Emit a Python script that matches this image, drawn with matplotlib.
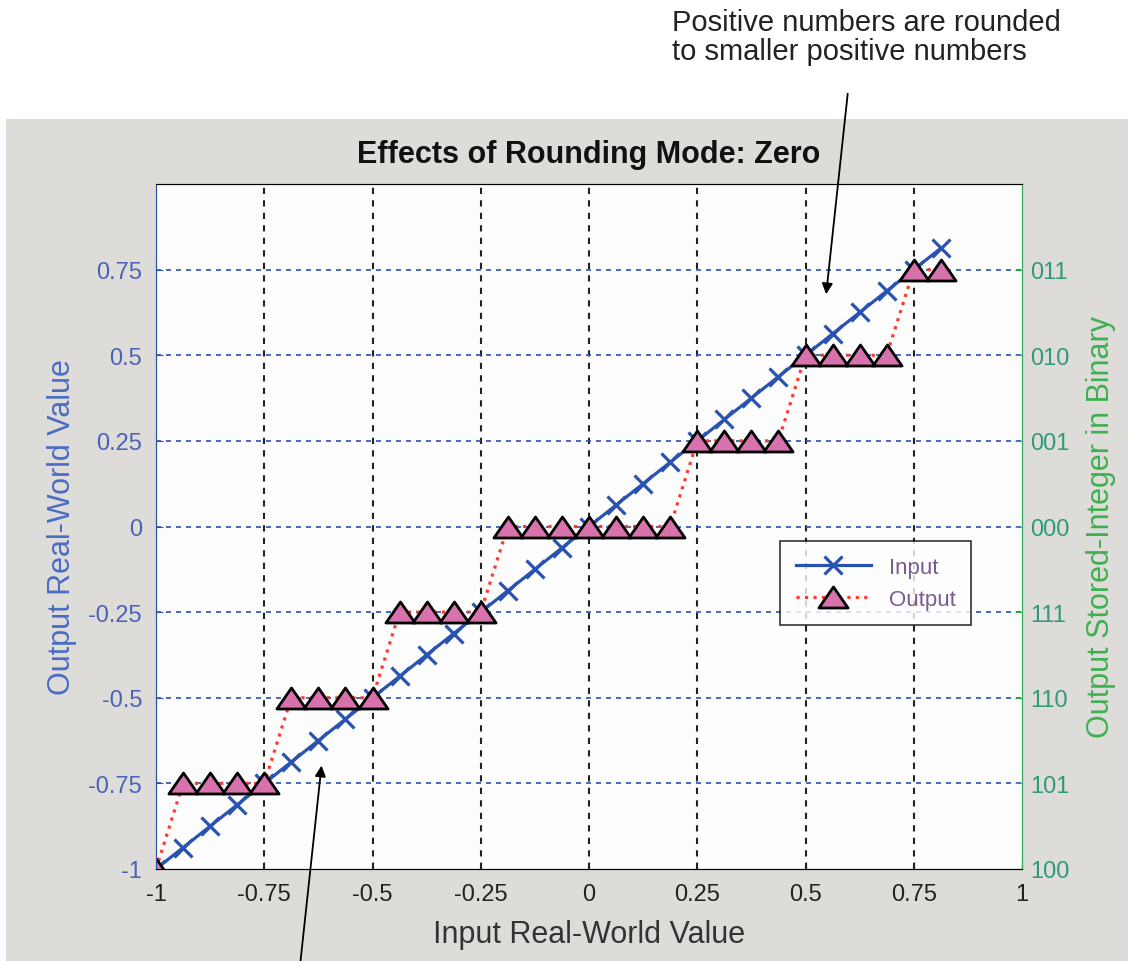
import matplotlib
matplotlib.use("Agg")
import matplotlib.pyplot as plt
from matplotlib.patches import Rectangle
from matplotlib.path import Path

plt.rcParams['font.family'] = ['Liberation Sans', 'DejaVu Sans']

# data
x_in = [-1, -0.9375, -0.875, -0.8125, -0.75, -0.6875, -0.625, -0.5625, -0.5,
        -0.4375, -0.375, -0.3125, -0.25, -0.1875, -0.125, -0.0625, 0, 0.0625,
        0.125, 0.1875, 0.25, 0.3125, 0.375, 0.4375, 0.5, 0.5625, 0.625, 0.6875,
        0.75, 0.8125]
y_out = [-1, -0.75, -0.75, -0.75, -0.75, -0.5, -0.5, -0.5, -0.5,
         -0.25, -0.25, -0.25, -0.25, 0, 0, 0, 0, 0,
         0, 0, 0.25, 0.25, 0.25, 0.25, 0.5, 0.5, 0.5, 0.5,
         0.75, 0.75]
x_ticks = [-1, -0.75, -0.5, -0.25, 0, 0.25, 0.5, 0.75, 1]
x_labels = ["-1", "-0.75", "-0.5", "-0.25", "0", "0.25", "0.5", "0.75", "1"]
y_ticks = [-1, -0.75, -0.5, -0.25, 0, 0.25, 0.5, 0.75]
y_labels = ["-1", "-0.75", "-0.5", "-0.25", "0", "0.25", "0.5", "0.75"]
bin_labels = ["100", "101", "110", "111", "000", "001", "010", "011"]

blue = '#2a52b0'
green = '#2fa75a'

fig = plt.figure(figsize=(11.28, 9.62), dpi=100)
fig.patches.append(Rectangle((6 / 1128, 0), 1, 1 - 120 / 962, transform=fig.transFigure,
                             facecolor='#dedcd8', edgecolor='none', zorder=-1))

ax = fig.add_axes([156 / 1128, 1 - 870 / 962, 866 / 1128, 685 / 962])
ax.set_facecolor('#fdfdfd')

# flat-ish triangle marker
tri = Path([(-1, -0.72), (1, -0.72), (0, 0.72), (-1, -0.72)],
           [Path.MOVETO, Path.LINETO, Path.LINETO, Path.CLOSEPOLY])

ax.plot(x_in, x_in, '-', color=blue, lw=2.3, marker='x', ms=13, mew=2.3, label='Input', zorder=3)
ax.plot(x_in, y_out, ':', color='#ff3b30', lw=2.3, marker=tri, ms=21, mfc='#d772ad',
        mec='black', mew=2, label='Output', zorder=4)

ax.set_xlim(-1, 1)
ax.set_ylim(-1, 1)
ax.set_xticks(x_ticks)
ax.set_xticklabels(x_labels)
ax.set_yticks(y_ticks)
ax.set_yticklabels(y_labels)
ax.tick_params(direction='in', length=5, labelsize=17, pad=8)
ax.tick_params(axis='x', colors='#222222', pad=10)
ax.tick_params(axis='y', colors=blue, labelcolor='#4a62b8', pad=10)

for xv in x_ticks[1:-1]:
    ax.axvline(xv, color='#222222', ls=(0, (3, 3)), lw=1.5, zorder=1)
for yv in y_ticks[1:]:
    ax.axhline(yv, color='#2a52b0', ls=(0, (3, 3)), lw=1.2, zorder=1)

ax.spines['left'].set_color(blue)
ax.spines['right'].set_color(green)
ax.spines['top'].set_color('#333333')
ax.spines['bottom'].set_color('#333333')

ax.set_xlabel('Input Real-World Value', fontsize=22, color='#333333', labelpad=10)
ax.set_ylabel('Output Real-World Value', fontsize=22, color='#4a6cc4', labelpad=8)
ax.set_title('Effects of Rounding Mode: Zero', fontsize=22, fontweight='bold', pad=16,
             color='#111111')

ax2 = ax.twinx()
ax2.set_ylim(-1, 1)
ax2.set_yticks(y_ticks)
ax2.set_yticklabels(bin_labels)
ax2.tick_params(direction='in', length=5, labelsize=17, pad=6, colors=green,
                labelcolor='#2e9a78')
ax2.spines['right'].set_color(green)
ax2.spines['left'].set_color(blue)
ax2.set_ylabel('Output Stored-Integer in Binary', fontsize=22, color='#3db050', labelpad=12)

leg = ax.legend(loc='upper left', bbox_to_anchor=(0.7206, 0.4788), fontsize=16,
                frameon=True, fancybox=False, edgecolor='black', handlelength=3.4,
                borderpad=0.7, labelspacing=0.5, borderaxespad=0)
leg.get_frame().set_linewidth(1.2)
for t in leg.get_texts():
    t.set_color('#7a5a90')

fig.text(672 / 1128, 1 - 9 / 962, 'Positive numbers are rounded\nto smaller positive numbers',
         fontsize=21, va='top', ha='left', color='#222222', linespacing=1.05)

ax.annotate('', xy=(0.547, 0.67), xycoords='data', xytext=(848 / 1128, 1 - 92 / 962),
            textcoords='figure fraction', annotation_clip=False,
            arrowprops=dict(arrowstyle='-|>', color='black', lw=1.3, mutation_scale=16))
ax.annotate('', xy=(-0.617, -0.69), xycoords='data', xytext=(300 / 1128, -0.005),
            textcoords='figure fraction', annotation_clip=False,
            arrowprops=dict(arrowstyle='-|>', color='black', lw=1.3, mutation_scale=16))

fig.savefig('out.png', dpi=100)
